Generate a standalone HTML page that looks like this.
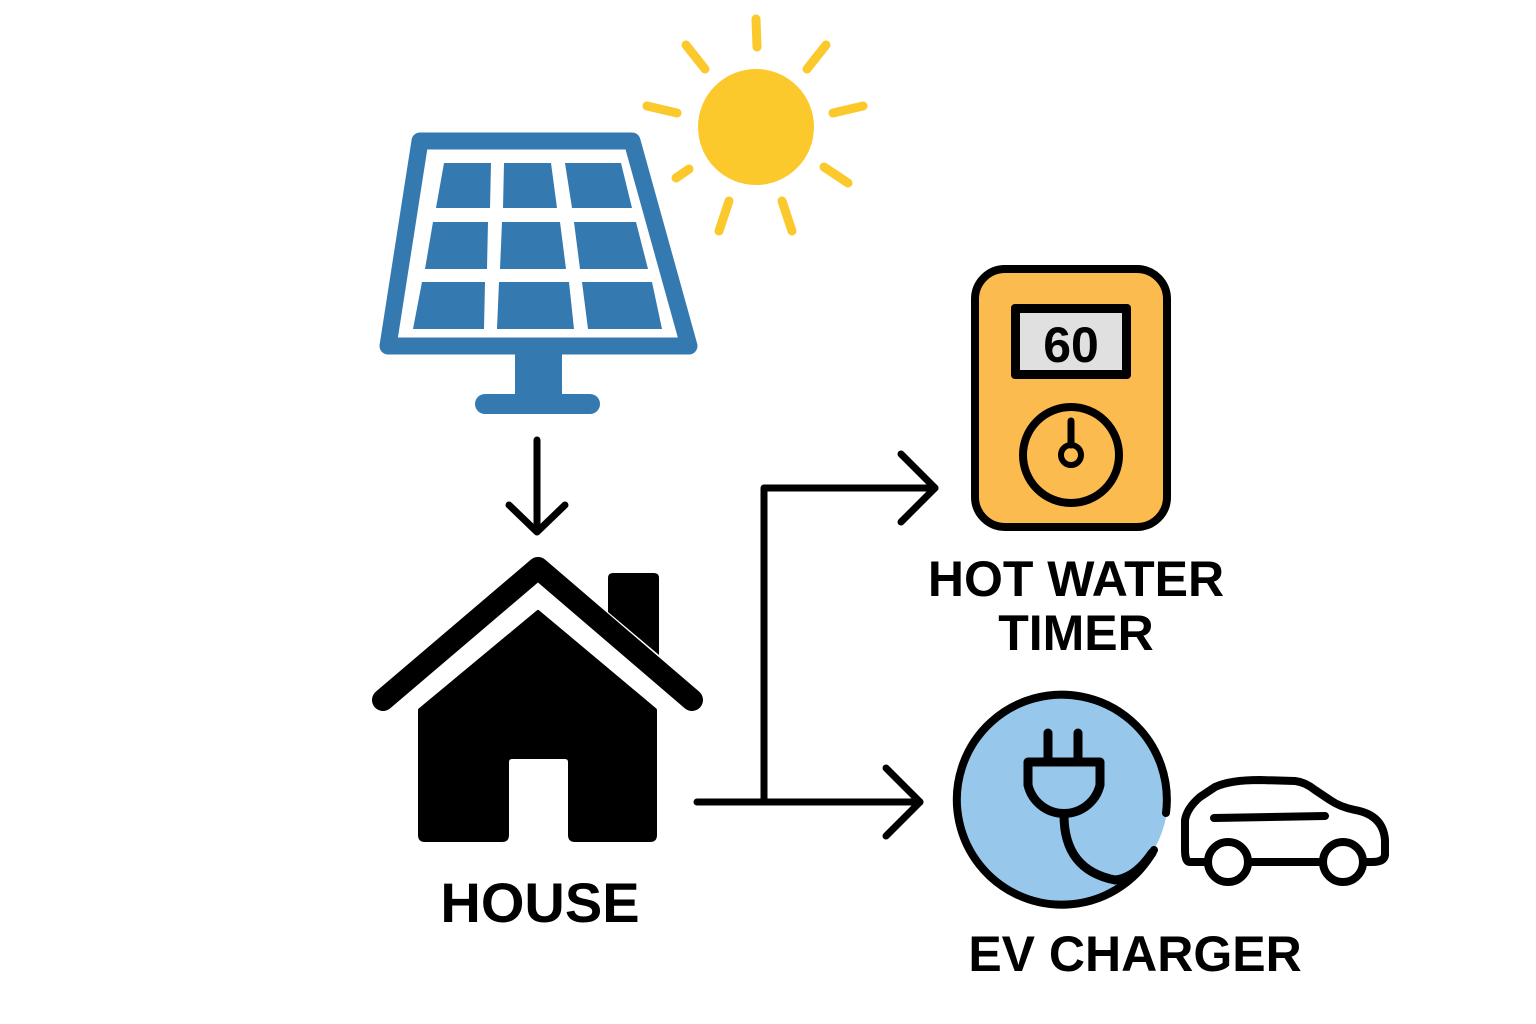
<!DOCTYPE html>
<html><head><style>html,body{margin:0;padding:0;background:#fff}svg{display:block}</style></head>
<body>
<svg width="1536" height="1024" viewBox="0 0 1536 1024" xmlns="http://www.w3.org/2000/svg">
<!-- sun -->
<circle cx="756" cy="127" r="58" fill="#fcc92c"/>
<g stroke="#fcc92c" stroke-width="9" stroke-linecap="round">
<line x1="756" y1="19" x2="757" y2="47"/>
<line x1="686" y1="45" x2="705" y2="69"/>
<line x1="826" y1="45" x2="807" y2="69"/>
<line x1="647" y1="106" x2="677" y2="113"/>
<line x1="863" y1="106" x2="833" y2="113"/>
<line x1="676" y1="178" x2="689" y2="169"/>
<line x1="848" y1="183" x2="824" y2="167"/>
<line x1="719" y1="231" x2="729" y2="201"/>
<line x1="792" y1="231" x2="782" y2="201"/>
</g>
<!-- solar panel -->
<path d="M420 141 L632 141 L689 346 L388 346 Z" fill="#fff" stroke="#3579b1" stroke-width="17" stroke-linejoin="round"/>
<g fill="#3579b1">
<polygon points="444,163 491,163 490,208 436,208"/>
<polygon points="504,163 551,163 557,208 503,208"/>
<polygon points="565,163 621,163 632,208 572,208"/>
<polygon points="433,222 488,222 487,269 425,269"/>
<polygon points="502,222 560,222 566,269 500,269"/>
<polygon points="574,222 636,222 648,269 580,269"/>
<polygon points="422,282 485,282 484,329 413,329"/>
<polygon points="499,282 569,282 574,329 497,329"/>
<polygon points="582,282 652,282 662,329 588,329"/>
<rect x="515" y="350" width="47" height="48"/>
<rect x="475" y="394" width="125" height="20" rx="10"/>
</g>
<!-- arrows -->
<g stroke="#000" stroke-width="7" fill="none" stroke-linecap="round" stroke-linejoin="round">
<line x1="537" y1="440" x2="537" y2="530"/>
<polyline points="509,505 537,532 565,505"/>
<polyline points="697,802 920,802"/>
<polyline points="764,802 764,488 935,488"/>
<polyline points="901,454 935,488 901,522"/>
<polyline points="886,768 920,802 886,836"/>
</g>
<!-- house -->
<polyline points="383,700 538,568 692,700" fill="none" stroke="#000" stroke-width="22" stroke-linecap="round" stroke-linejoin="round"/>
<path d="M608 578 Q608 573 613 573 L654 573 Q659 573 659 578 L659 655 L608 612 Z" fill="#000"/>
<path d="M420 710 L538 612 L655 710 L655 835 Q655 840 650 840 L575 840 Q570 840 570 835 L570 762 Q570 757 565 757 L512 757 Q507 757 507 762 L507 835 Q507 840 502 840 L425 840 Q420 840 420 835 Z" fill="#000" stroke="#000" stroke-width="4" stroke-linejoin="round"/>
<!-- timer -->
<rect x="975" y="269" width="192" height="258" rx="30" fill="#fcbb4f" stroke="#000" stroke-width="8"/>
<rect x="1011" y="304" width="120" height="75" rx="4" fill="#000"/>
<rect x="1020" y="313" width="102" height="57" fill="#e0e0e0"/>
<text x="1071" y="362" text-anchor="middle" font-family="Liberation Sans, sans-serif" font-size="50" font-weight="bold" fill="#000">60</text>
<circle cx="1071" cy="455" r="48" fill="none" stroke="#000" stroke-width="8"/>
<line x1="1071" y1="421" x2="1071" y2="445" stroke="#000" stroke-width="7" stroke-linecap="round"/>
<circle cx="1071" cy="455" r="10" fill="none" stroke="#000" stroke-width="6"/>
<!-- EV -->
<circle cx="1063" cy="797" r="105" fill="#97c8ec"/>
<path d="M1154 850 A105 105 0 1 1 1166 813" fill="none" stroke="#000" stroke-width="8" stroke-linecap="round"/>
<g stroke="#000" stroke-width="9" fill="none" stroke-linecap="round" stroke-linejoin="round">
<line x1="1048" y1="733" x2="1048" y2="758"/>
<line x1="1078" y1="733" x2="1078" y2="758"/>
<path d="M1028 762 L1100 762 L1100 785 A37 37 0 0 1 1028 785 Z"/>
<path d="M1064 815 Q1064 870 1115 880 Q1135 878 1152 853"/>
</g>
<g stroke="#000" stroke-width="8" fill="none" stroke-linecap="round" stroke-linejoin="round">
<path d="M1208 862 L1190 862 Q1185 862 1185 850 L1185 820 Q1187 808 1200 797 L1215 787 Q1230 780 1260 780 L1295 781 Q1305 782 1315 790 L1330 800 Q1340 807 1355 810 Q1383 815 1385 840 L1385 855 Q1384 862 1372 862 L1363 862"/>
<line x1="1248" y1="862" x2="1323" y2="862"/>
<line x1="1214" y1="818" x2="1325" y2="816"/>
<circle cx="1228" cy="862" r="20"/>
<circle cx="1343" cy="862" r="20"/>
</g>
<!-- labels -->
<g font-family="Liberation Sans, sans-serif" font-weight="bold" fill="#000" text-anchor="middle">
<text x="1076" y="596" font-size="50">HOT WATER</text>
<text x="1076" y="650" font-size="50">TIMER</text>
<text x="540" y="922" font-size="56">HOUSE</text>
<text x="1135" y="971" font-size="50">EV CHARGER</text>
</g>
</svg>
</body></html>
